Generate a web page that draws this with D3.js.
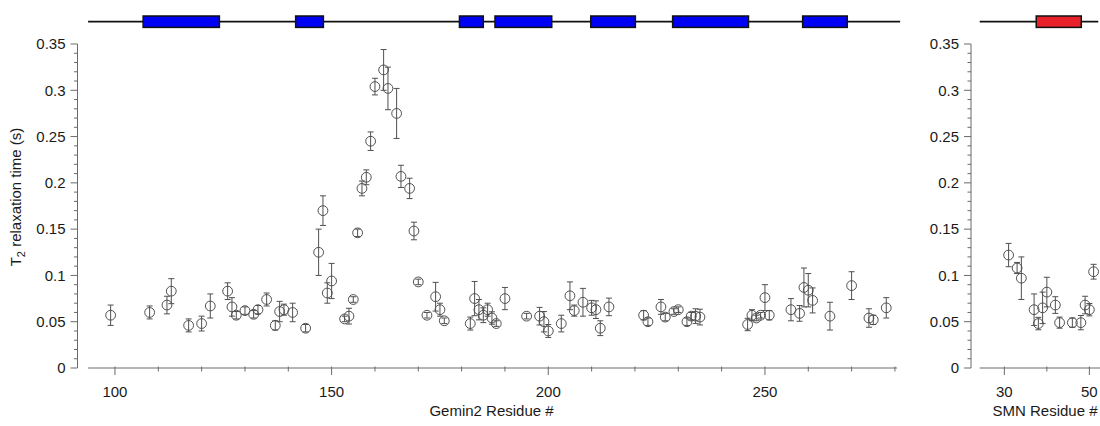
<!DOCTYPE html>
<html>
<head>
<meta charset="utf-8">
<script src="https://cdn.jsdelivr.net/npm/d3@7"></script>
<style>
  html, body { margin: 0; padding: 0; background: #fff; }
  svg { display: block; font-family: "Liberation Sans", Arial, sans-serif; }
</style>
</head>
<body>
<svg id="chart" width="1100" height="426"></svg>
<script>
// Gemin2 T2 relaxation times (s) with uncertainties
const gemRes = [99,108,112,113,117,120,122,126,127,128,130,132,133,135,137,138,139,141,144,147,148,149,150,
  153,154,155,156,157,158,159,160,162,163,165,166,168,169,170,172,174,175,176,182,183,184,185,186,187,188,190,
  195,198,199,200,203,205,206,208,210,211,212,214,222,223,226,227,229,230,232,233,234,235,246,247,248,249,250,251,
  256,258,259,260,261,265,270,274,275,278];
const gemT2 = [0.057,0.060,0.068,0.083,0.046,0.048,0.067,0.083,0.066,0.057,0.062,0.058,0.063,0.074,0.046,0.061,0.063,0.060,0.043,0.125,0.170,0.081,0.094,
  0.053,0.056,0.074,0.146,0.194,0.206,0.245,0.304,0.322,0.302,0.275,0.207,0.194,0.148,0.093,0.057,0.077,0.063,0.051,0.048,0.075,0.063,0.057,0.063,0.054,0.048,0.075,
  0.056,0.056,0.050,0.040,0.048,0.078,0.062,0.071,0.065,0.063,0.043,0.066,0.057,0.050,0.066,0.055,0.061,0.063,0.050,0.056,0.056,0.055,0.047,0.057,0.054,0.057,0.076,0.057,
  0.063,0.059,0.087,0.084,0.073,0.056,0.089,0.054,0.052,0.065];
const gemErr = [0.011,0.007,0.0095,0.0135,0.007,0.008,0.013,0.009,0.010,0.004,0.004,0.004,0.0045,0.007,0.005,0.011,0.006,0.010,0.004,0.025,0.016,0.011,0.019,
  0.003,0.0085,0.003,0.004,0.008,0.008,0.010,0.009,0.022,0.023,0.027,0.012,0.011,0.0095,0.003,0.003,0.0155,0.007,0.003,0.007,0.0185,0.011,0.008,0.007,0.0067,0.003,0.012,
  0.003,0.0095,0.011,0.007,0.009,0.015,0.006,0.015,0.008,0.0095,0.008,0.0095,0.005,0.004,0.008,0.004,0.003,0.003,0.004,0.004,0.008,0.0085,0.0067,0.006,0.003,0.003,0.014,0.005,
  0.012,0.0085,0.021,0.018,0.0135,0.015,0.015,0.010,0.005,0.011];

// SMN T2 relaxation times (s)
const smnRes = [31,33,34,37,38,39,40,42,43,46,48,49,50,51];
const smnT2 = [0.122,0.108,0.097,0.063,0.048,0.065,0.082,0.068,0.049,0.049,0.049,0.068,0.063,0.104];
const smnErr = [0.0126,0.006,0.023,0.017,0.0067,0.017,0.016,0.009,0.006,0.005,0.0077,0.0095,0.0067,0.008];

// Secondary structure (helix spans, residue numbers)
const gemSpan = [93.8, 281.2];
const gemHelices = [[106.5,124.1],[141.7,148.1],[179.5,185],[187.7,200.8],[209.8,220.1],[228.7,246.2],[258.7,269]];
const smnSpan = [24.2, 52.1];
const smnHelices = [[37.5,48.1]];

// Axis ticks and labels
const yMajor = [0,0.05,0.1,0.15,0.2,0.25,0.3,0.35];
const yLabels = ["0","0.05","0.1","0.15","0.2","0.25","0.3","0.35"];
const gemMajor = [100,150,200,250];
const gemMinor = [110,120,130,140,160,170,180,190,210,220,230,240,260,270,280];
const smnMajor = [30,50];
const smnMinor = [40];

const svg = d3.select("#chart");
const axisColor = "#6a6a6a";
const markColor = "#505050";

const y = d3.scaleLinear().domain([0, 0.35]).range([368, 44]);
const xG = d3.scaleLinear().domain([93.8, 280.5]).range([88.1, 897.1]);
const xS = d3.scaleLinear().domain([24.2, 52.6]).range([979.7, 1100.4]);

function drawYAxis(x0) {
  const g = svg.append("g");
  g.append("line").attr("x1", x0).attr("x2", x0).attr("y1", y(0)).attr("y2", y(0.35))
    .attr("stroke", axisColor).attr("stroke-width", 1);
  d3.range(0, 36).forEach(i => {
    const v = i / 100;
    const major = i % 5 === 0;
    g.append("line").attr("x1", x0 - (major ? 7 : 3.5)).attr("x2", x0)
      .attr("y1", y(v)).attr("y2", y(v)).attr("stroke", axisColor).attr("stroke-width", 1);
  });
  yMajor.forEach((v, i) => {
    g.append("text").attr("x", x0 - 12).attr("y", y(v)).attr("dy", "0.35em")
      .attr("text-anchor", "end").attr("font-size", 15).attr("fill", "#1a1a1a").text(yLabels[i]);
  });
}

function drawXAxis(xs, major, minor, x1, x2, title, titleX) {
  const g = svg.append("g");
  const y0 = y(0);
  g.append("line").attr("x1", x1).attr("x2", x2).attr("y1", y0).attr("y2", y0)
    .attr("stroke", axisColor).attr("stroke-width", 1);
  minor.forEach(v => {
    g.append("line").attr("x1", xs(v)).attr("x2", xs(v)).attr("y1", y0 - 1.5).attr("y2", y0 + 3.5)
      .attr("stroke", axisColor).attr("stroke-width", 1);
  });
  major.forEach(v => {
    g.append("line").attr("x1", xs(v)).attr("x2", xs(v)).attr("y1", y0 - 1.5).attr("y2", y0 + 7)
      .attr("stroke", axisColor).attr("stroke-width", 1);
    g.append("text").attr("x", xs(v)).attr("y", 397).attr("text-anchor", "middle")
      .attr("font-size", 15).attr("fill", "#1a1a1a").text(v);
  });
  g.append("text").attr("x", titleX).attr("y", 416).attr("text-anchor", "middle")
    .attr("font-size", 15).attr("fill", "#1a1a1a").text(title);
}

function drawPoints(xs, res, vals, errs) {
  const g = svg.append("g").attr("stroke", markColor).attr("fill", "none").attr("stroke-width", 1);
  res.forEach((r, i) => {
    const cx = xs(r), v = vals[i], e = errs[i];
    const top = y(v + e), bot = y(v - e);
    g.append("line").attr("x1", cx).attr("x2", cx).attr("y1", top).attr("y2", bot);
    g.append("line").attr("x1", cx - 3).attr("x2", cx + 3).attr("y1", top).attr("y2", top);
    g.append("line").attr("x1", cx - 3).attr("x2", cx + 3).attr("y1", bot).attr("y2", bot);
  });
  res.forEach((r, i) => {
    g.append("circle").attr("cx", xs(r)).attr("cy", y(vals[i])).attr("r", 4.9)
      .attr("fill", "rgba(255,255,255,0)");
  });
}

function drawTopology(xs, span, helices, color) {
  const g = svg.append("g");
  const yc = 21.7;
  g.append("line").attr("x1", xs(span[0])).attr("x2", xs(span[1])).attr("y1", yc).attr("y2", yc)
    .attr("stroke", "#111").attr("stroke-width", 1.8);
  helices.forEach(h => {
    g.append("rect").attr("x", xs(h[0])).attr("y", yc - 5.7)
      .attr("width", xs(h[1]) - xs(h[0])).attr("height", 11.4)
      .attr("fill", color).attr("stroke", "#111").attr("stroke-width", 1.5);
  });
}

drawTopology(xG, gemSpan, gemHelices, "#0000f5");
drawTopology(xS, smnSpan, smnHelices, "#e8202a");

drawYAxis(77.5);
drawYAxis(971);
drawXAxis(xG, gemMajor, gemMinor, xG(93.8), xG(280.5), "Gemin2 Residue #", 491.5);
drawXAxis(xS, smnMajor, smnMinor, xS(24.2), 1100, "SMN Residue #", 1045);

drawPoints(xG, gemRes, gemT2, gemErr);
drawPoints(xS, smnRes, smnT2, smnErr);

// y-axis title with subscript
const yt = svg.append("text").attr("transform", "translate(21,197) rotate(-90)")
  .attr("text-anchor", "middle").attr("font-size", 15).attr("fill", "#1a1a1a");
yt.append("tspan").text("T");
yt.append("tspan").attr("font-size", 11).attr("dy", 4).text("2");
yt.append("tspan").attr("dy", -4).text(" relaxation time (s)");
</script>
</body>
</html>
